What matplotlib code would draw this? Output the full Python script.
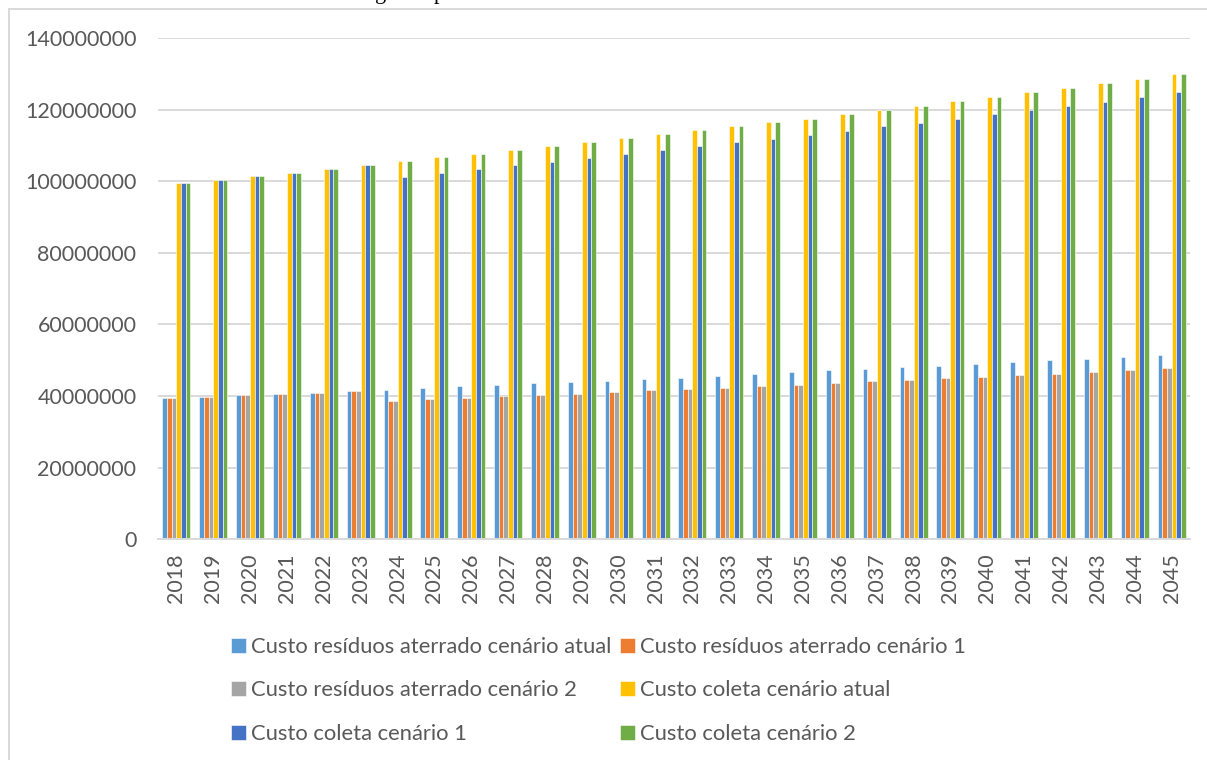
import matplotlib
matplotlib.use("Agg")
import matplotlib.pyplot as plt
import numpy as np
from matplotlib.patches import Rectangle
from matplotlib import font_manager

# Annual costs, in millions of R$
years = [str(y) for y in range(2018, 2046)]

aterrado_atual = [39.4, 39.75, 40.2, 40.5, 40.9, 41.4, 41.7, 42.2, 42.7, 43.0,
                  43.6, 43.9, 44.2, 44.8, 45.1, 45.7, 46.1, 46.6, 47.2, 47.5,
                  48.0, 48.4, 49.0, 49.4, 50.0, 50.4, 50.9, 51.5]
aterrado_c1 = [39.4, 39.75, 40.2, 40.5, 40.9, 41.4, 38.7, 39.1, 39.5, 40.0,
               40.3, 40.7, 41.1, 41.6, 42.0, 42.3, 42.8, 43.2, 43.6, 44.1,
               44.5, 45.0, 45.3, 45.9, 46.3, 46.7, 47.3, 47.7]
aterrado_c2 = list(aterrado_c1)
coleta_atual = [99.4, 100.4, 101.5, 102.4, 103.4, 104.6, 105.6, 106.8, 107.7, 108.7,
                109.7, 110.9, 112.0, 113.1, 114.2, 115.4, 116.5, 117.5, 118.8, 119.9,
                121.1, 122.4, 123.6, 124.9, 126.0, 127.3, 128.5, 130.0]
coleta_c1 = [99.4, 100.4, 101.5, 102.4, 103.4, 104.6, 101.3, 102.4, 103.3, 104.4,
             105.4, 106.5, 107.5, 108.7, 109.8, 110.9, 111.8, 112.9, 114.1, 115.3,
             116.4, 117.4, 118.7, 119.9, 120.9, 122.2, 123.5, 124.8]
coleta_c2 = list(coleta_atual)

series_labels = [
    "Custo resíduos aterrado cenário atual",
    "Custo resíduos aterrado cenário 1",
    "Custo resíduos aterrado cenário 2",
    "Custo coleta cenário atual",
    "Custo coleta cenário 1",
    "Custo coleta cenário 2",
]
series_values = [aterrado_atual, aterrado_c1, aterrado_c2,
                 coleta_atual, coleta_c1, coleta_c2]
colors = ["#5B9BD5", "#ED7D31", "#A5A5A5", "#FFC000", "#4472C4", "#70AD47"]

available = {f.name for f in font_manager.fontManager.ttflist}
family = "Liberation Sans Narrow" if "Liberation Sans Narrow" in available else "Lato"
plt.rcParams["font.family"] = [family, "DejaVu Sans"]

W, H = 1207, 760
fig = plt.figure(figsize=(W / 100, H / 100), dpi=100)
fig.patch.set_facecolor("white")

# plot area in pixel coordinates
left, right, top, bottom = 158, 1190, 38, 539.3
ax = fig.add_axes([left / W, 1 - bottom / H, (right - left) / W, (bottom - top) / H])

x = np.arange(len(years))
bar_w = 0.1266
handles = []
for i, (vals, lab, col) in enumerate(zip(series_values, series_labels, colors)):
    offs = (i - 2.5) * bar_w
    h = ax.bar(x + offs, np.array(vals) * 1e6, width=bar_w, color=col,
               edgecolor="white", linewidth=0.4, label=lab, zorder=3)
    handles.append(h)

ax.set_xlim(-0.5, len(years) - 0.5)
ax.set_ylim(0, 140e6)
ax.set_yticks(np.arange(0, 140e6 + 1, 20e6))
ax.set_yticklabels([f"{int(v)}" for v in np.arange(0, 140e6 + 1, 20e6)])
ax.set_xticks(x)
ax.set_xticklabels(years, rotation=90)

ax.grid(axis="y", color="#D9D9D9", linewidth=1.4, zorder=0)
for s in ["top", "right", "left"]:
    ax.spines[s].set_visible(False)
ax.spines["bottom"].set_color("#D9D9D9")
ax.spines["bottom"].set_linewidth(1.4)
ax.spines["bottom"].set_zorder(4)
ax.tick_params(axis="both", length=0, colors="#595959", labelsize=15.5)
ax.tick_params(axis="y", pad=15.5)
ax.tick_params(axis="x", pad=10)

# legend laid out row by row in two columns
order = [0, 2, 4, 1, 3, 5]
leg = fig.legend([handles[i] for i in order], [series_labels[i] for i in order],
                 ncol=2, loc="upper left",
                 bbox_to_anchor=(220 / W, 1 - 626 / H),
                 frameon=False, fontsize=15.8, labelcolor="#595959",
                 handlelength=0.7, handleheight=0.7, handletextpad=0.2,
                 columnspacing=0.4, labelspacing=1.07, borderpad=0)

# chart frame
fig.patches.append(Rectangle((9 / W, -0.1), 1.2, 1 - 9 / H + 0.1,
                             transform=fig.transFigure, fill=False,
                             edgecolor="#D9D9D9", linewidth=1.4))

# caption text of the surrounding page, running off the top edge
fig.text(375 / W, 1 + 1 / H, "g", family="Liberation Serif", fontsize=16,
         va="baseline", color="black")
fig.text(434 / W, 1 + 1 / H, "p", family="Liberation Serif", fontsize=16,
         va="baseline", color="black")

fig.savefig("out.png", dpi=100, facecolor="white")
